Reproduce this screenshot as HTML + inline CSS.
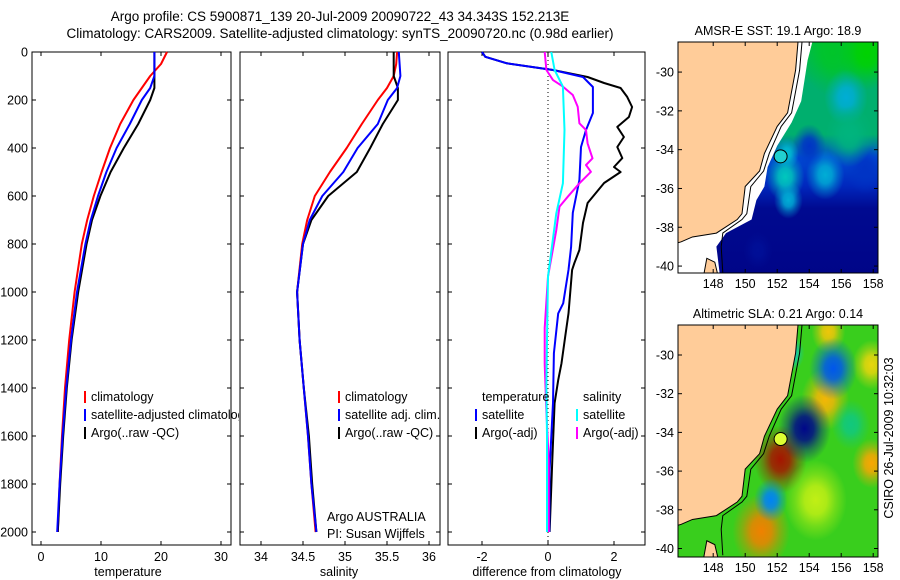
<!DOCTYPE html>
<html><head><meta charset="utf-8">
<style>
html,body{margin:0;padding:0;background:#fff;}
svg{display:block;font-family:"Liberation Sans",sans-serif;}
</style></head>
<body>
<svg id="fig" width="900" height="580" viewBox="0 0 900 580" xmlns="http://www.w3.org/2000/svg">
<rect x="0" y="0" width="900" height="580" fill="#fff"/>
<text x="340" y="21" font-size="13.5" text-anchor="middle">Argo profile: CS 5900871_139 20-Jul-2009 20090722_43 34.343S 152.213E</text>
<text x="340" y="38" font-size="13.5" text-anchor="middle">Climatology: CARS2009. Satellite-adjusted climatology: synTS_20090720.nc (0.98d earlier)</text>
<g id="g"></g>
</svg>
<script>
// ---------- profile data ----------
const depths = [0,50,100,150,200,300,400,500,600,700,800,1000,1200,1400,1600,1800,2000];
const tempClim = [21,20,18.2,16.8,15.4,13.2,11.5,10.1,8.8,7.7,6.8,5.6,4.7,4.0,3.5,3.1,2.8];
const tempSat = [18.9,18.9,18.9,18.2,16.8,14.8,12.6,10.9,9.5,8.3,7.4,6.0,5.0,4.2,3.6,3.1,2.7];
const tempArgo = [18.9,18.9,18.9,18.9,18.2,16.2,13.8,11.6,9.9,8.5,7.6,6.2,5.1,4.3,3.7,3.2,2.8];
const salClim = [35.62,35.61,35.58,35.5,35.39,35.2,35.02,34.82,34.64,34.55,34.49,34.43,34.46,34.51,34.56,34.6,34.65];
const salSat = [35.64,35.65,35.66,35.62,35.51,35.39,35.15,34.98,34.73,34.58,34.5,34.43,34.46,34.51,34.56,34.6,34.66];
const salArgo = [35.58,35.58,35.58,35.63,35.63,35.45,35.3,35.14,34.8,34.6,34.5,34.43,34.46,34.51,34.57,34.61,34.66];
const dTempSatDepth = [0,20,47,75,104,146,254,325,396,533,670,812,908,1047,1089,1255,1463,1741,2000];
const dTempSat = [-2.0,-1.9,-1.25,0.15,1.06,1.36,1.36,1.15,1.0,0.95,0.75,0.7,0.62,0.46,0.31,0.18,0.15,0.05,0.04];
const dTempArgoDepth = [0,20,47,75,104,129,150,187,229,271,312,354,396,442,479,500,546,629,712,825,879,908,1089,1186,1297,1367,1463,1700,2000];
const dTempArgo = [-2.0,-1.9,-1.25,0.15,1.2,1.7,2.2,2.4,2.55,2.45,2.1,2.3,2.1,2.25,2.0,2.2,1.7,1.2,1.06,0.95,0.8,0.73,0.62,0.52,0.41,0.31,0.2,0.13,0.05];
const dSalSatDepth = [0,75,144,325,547,672,936,1200,1400,1600,2000];
const dSalSat = [0.1,0.2,0.45,0.5,0.45,0.25,0.0,-0.03,-0.05,-0.03,-0.03];
const dSalArgoDepth = [0,75,117,144,179,228,297,325,381,443,471,499,547,603,644,742,936,1150,1300,1500,1700,2000];
const dSalArgo = [-0.1,-0.05,0.15,0.45,0.75,0.9,0.95,1.15,1.2,1.35,1.15,1.3,0.95,0.6,0.35,0.25,0.0,-0.1,-0.1,-0.05,0.02,0.02];
const depthTicks = [0,200,400,600,800,1000,1200,1400,1600,1800,2000];
const tempTicks = [0,10,20,30];
const salTicks = [34,34.5,35,35.5,36];
const salTickLabels = ["34","34.5","35","35.5","36"];
const diffTicks = [-2,0,2];
// ---------- map data ----------
const latTicks = [-30,-32,-34,-36,-38,-40];
const lonTicks = [148,150,152,154,156,158];
const coastLon = [153.3,153.15,152.65,152.0,151.2,150.9,150.0,149.8,149.5,148.2,146.7,146.0,145.8];
const coastLat = [-28.45,-29.9,-32.1,-32.8,-34.2,-35.1,-35.9,-37.3,-37.6,-38.3,-38.5,-38.75,-38.8];
const shelfLon = [153.55,153.4,152.9,152.25,151.5,151.15,150.35,150.1,149.8,148.6,148.5,148.6];
const shelfLat = [-28.45,-29.9,-32.1,-32.8,-34.2,-35.1,-35.9,-37.3,-37.6,-38.3,-39.0,-40.35];
const sstEdgeLon = [154.2,153.9,153.5,152.9,152.0,151.4,151.2,150.7,150.4,148.8,148.2,148.4];
const sstEdgeLat = [-28.45,-29.4,-31.5,-32.6,-33.8,-34.9,-35.9,-36.6,-37.6,-38.3,-39.0,-40.35];
const sstBlobLon = [155.5,157.6,156.3,152.5,152.7,155.0,154.0,157.5,150.8,156.5,152.6];
const sstBlobLat = [-29.0,-29.0,-31.3,-35.4,-36.6,-35.3,-33.8,-35.0,-39.2,-33.3,-34.2];
const sstBlobVal = [0.55,0.7,-0.1,0.05,-0.1,-0.1,-0.55,-0.55,-0.85,0.25,-0.05];
const sstBlobR = [1.4,1.2,0.9,0.8,0.6,0.8,0.7,0.8,0.6,1.0,0.5];
const slaBlobLon = [152.2,151.0,157.9,155.0,157.9,155.2,153.7,155.5,151.6,152.8,156.6,154.4];
const slaBlobLat = [-35.4,-39.1,-35.6,-32.3,-30.5,-28.8,-33.8,-30.7,-37.5,-29.9,-33.6,-37.5];
const slaBlobVal = [0.95,0.7,0.6,0.55,0.45,0.5,-0.95,-0.6,-0.5,-0.3,-0.15,0.3];
const slaBlobR = [1.1,1.2,0.8,1.0,0.8,0.7,1.1,1.0,0.7,0.6,0.8,1.3];
const argoLon = 152.213, argoLat = -34.343;

const NS = "http://www.w3.org/2000/svg";
const G = document.getElementById('g');
function mk(tag, attrs, parent){ const e=document.createElementNS(NS,tag); for(const k in attrs) e.setAttribute(k,attrs[k]); (parent||G).appendChild(e); return e; }
function txt(x,y,s,size,anchor,parent){ const t=mk('text',{x:x,y:y,'font-size':size,'text-anchor':anchor||'start'},parent); t.textContent=s; return t; }

const PT=52, PB=545, D0=52, DS=0.24;
function yD(d){ return D0 + d*DS; }
const panels = [
  {name:'temperature', x0:32, x1:231, fx:v=>41+v*6, ticks:tempTicks, labels:tempTicks.map(String), title:'temperature', tx:128},
  {name:'salinity', x0:240, x1:440, fx:v=>261+(v-34)*84, ticks:salTicks, labels:salTickLabels, title:'salinity', tx:339},
  {name:'difference', x0:448, x1:645, fx:v=>548+v*33, ticks:diffTicks, labels:diffTicks.map(String), title:'difference from climatology', tx:547}
];
const defs = mk('defs',{});
const lc = mk('clipPath',{id:'legclip'},defs);
mk('rect',{x:0,y:0,width:239,height:580},lc);
panels.forEach((p,i)=>{
  const g = mk('g',{});
  
  
  const r = mk('rect',{x:p.x0,y:PT,width:p.x1-p.x0,height:PB-PT,fill:'none',stroke:'#000','stroke-width':1},g);
  
  
  depthTicks.forEach(d=>{
    const y=yD(d);
    mk('line',{x1:p.x0,y1:y,x2:p.x0+4,y2:y,stroke:'#000'},g);
    mk('line',{x1:p.x1,y1:y,x2:p.x1-4,y2:y,stroke:'#000'},g);
    if(i===0){ const t=txt(28,y+4.5,String(d),12.5,'end',g);
      
       }
  });
  p.ticks.forEach((v,k)=>{
    const x=p.fx(v);
    mk('line',{x1:x,y1:PT,x2:x,y2:PT+4,stroke:'#000'},g);
    mk('line',{x1:x,y1:PB,x2:x,y2:PB-4,stroke:'#000'},g);
    const t=txt(x,561,p.labels[k],12.5,'middle',g);
    
    
  });
  const tt=txt(p.tx,576,p.title,12.5,'middle',g);
  
  
});
const zl = mk('line',{x1:panels[2].fx(0),y1:PT,x2:panels[2].fx(0),y2:PB,stroke:'#000','stroke-dasharray':'1,3'});



function profile(p, vals, ds, color, name){
  const pts = vals.map((v,k)=>p.fx(v).toFixed(1)+','+yD(ds[k]).toFixed(1)).join(' ');
  const l = mk('polyline',{points:pts,fill:'none',stroke:color,'stroke-width':2,'stroke-linejoin':'round'});
  
  
}
profile(panels[0], tempClim, depths, '#ff0000', 'temperature-climatology-line');
profile(panels[0], tempArgo, depths, '#000000', 'temperature-argo-line');
profile(panels[0], tempSat, depths, '#0000ff', 'temperature-satellite-line');
profile(panels[1], salClim, depths, '#ff0000', 'salinity-climatology-line');
profile(panels[1], salArgo, depths, '#000000', 'salinity-argo-line');
profile(panels[1], salSat, depths, '#0000ff', 'salinity-satellite-line');
profile(panels[2], dTempArgo, dTempArgoDepth, '#000000', 'diff-temperature-argo-line');
profile(panels[2], dTempSat, dTempSatDepth, '#0000ff', 'diff-temperature-satellite-line');
profile(panels[2], dSalArgo, dSalArgoDepth, '#ff00ff', 'diff-salinity-argo-line');
profile(panels[2], dSalSat, dSalSatDepth, '#00ffff', 'diff-salinity-satellite-line');

function legend(x,y,color,label,clip){
  const g=mk('g',clip?{'clip-path':'url(#legclip)'}:{});
  
  
  if(color) mk('rect',{x:x,y:y-10,width:2,height:12,fill:color},g);
  txt(x+7,y,label,12.5,'start',g);
}
legend(84,401,'#ff0000','climatology',true);
legend(84,419,'#0000ff','satellite-adjusted climatology',true);
legend(84,437,'#000000','Argo(..raw -QC)',true);
legend(338,401,'#ff0000','climatology');
legend(338,419,'#0000ff','satellite adj. clim.');
legend(338,437,'#000000','Argo(..raw -QC)');
legend(475,401,null,'temperature');
legend(475,419,'#0000ff','satellite');
legend(475,437,'#000000','Argo(-adj)');
legend(576,401,null,'salinity');
legend(576,419,'#00ffff','satellite');
legend(576,437,'#ff00ff','Argo(-adj)');
const a1=txt(327,521,'Argo AUSTRALIA',12.5);  
const a2=txt(327,538,'PI: Susan Wijffels',12.5);  

// ---------- maps ----------
function interp(stops, v){
  v=Math.max(-1,Math.min(1,v));
  for(let k=0;k<stops.length-1;k++){
    const a=stops[k], b=stops[k+1];
    if(v<=b[0]){ const t=(v-a[0])/(b[0]-a[0]);
      return 'rgb('+[1,2,3].map(j=>Math.round(a[j]+(b[j]-a[j])*t)).join(',')+')'; }
  }
  const l=stops[stops.length-1]; return 'rgb('+l[1]+','+l[2]+','+l[3]+')';
}
const sstStops=[[-1,0,0,128],[-0.6,0,40,190],[-0.3,0,110,230],[0,0,205,205],[0.3,0,175,110],[0.7,0,210,0],[1,60,230,0]];
const slaStops=[[-1,0,0,120],[-0.7,0,40,230],[-0.35,0,200,255],[0,30,200,30],[0.35,220,245,20],[0.65,255,150,0],[1,150,0,0]];
const sstColor=v=>interp(sstStops,v), slaColor=v=>interp(slaStops,v);
let gid=0;
function makeMap(cfg){
  const L=678,R=878, lon0=145.8, lon1=158.3;
  const fx=lon=>L+(lon-lon0)*(R-L)/(lon1-lon0);
  const fy=lat=>cfg.top+(cfg.lat0-lat)*cfg.sy;
  const col=cfg.color;
  const g=mk('g',{});
  
  
  const cp=mk('clipPath',{id:'clip'+cfg.name},defs);
  mk('rect',{x:L,y:cfg.top,width:R-L,height:cfg.bot-cfg.top},cp);
  const inner=mk('g',{'clip-path':'url(#clip'+cfg.name+')'},g);
  mk('rect',{x:L,y:cfg.top,width:R-L,height:cfg.bot-cfg.top,fill:'#fff'},inner);
  let dataPts;
  if(cfg.edgeLon){
    dataPts = cfg.edgeLon.map((v,k)=>fx(v)+','+fy(cfg.edgeLat[k])).join(' ')+' '+R+','+(cfg.bot+5)+' '+R+','+cfg.top;
  } else {
    dataPts = L+','+cfg.top+' '+R+','+cfg.top+' '+R+','+cfg.bot+' '+L+','+cfg.bot;
  }
  const cp2=mk('clipPath',{id:'dclip'+cfg.name},defs);
  mk('polygon',{points:dataPts},cp2);
  const dg=mk('g',{'clip-path':'url(#dclip'+cfg.name+')'},inner);
  
  
  if(cfg.vgrad){
    const id='vg'+(gid++);
    const lg=mk('linearGradient',{id:id,x1:0,y1:0,x2:0,y2:1},defs);
    cfg.vgrad.forEach(s=>mk('stop',{offset:s[0],'stop-color':col(s[1])},lg));
    mk('rect',{x:L,y:cfg.top,width:R-L,height:cfg.bot-cfg.top,fill:'url(#'+id+')'},dg);
  } else {
    mk('rect',{x:L,y:cfg.top,width:R-L,height:cfg.bot-cfg.top,fill:col(cfg.baseVal)},dg);
  }
  cfg.bLon.forEach((lon,k)=>{
    const id='bg'+(gid++);
    const rg=mk('radialGradient',{id:id},defs);
    const v=cfg.bVal[k];
    mk('stop',{offset:'0%','stop-color':col(v),'stop-opacity':1},rg);
    mk('stop',{offset:'35%','stop-color':col(v),'stop-opacity':0.85},rg);
    mk('stop',{offset:'65%','stop-color':col(v),'stop-opacity':0.4},rg);
    mk('stop',{offset:'100%','stop-color':col(v),'stop-opacity':0},rg);
    const e=mk('ellipse',{cx:fx(lon),cy:fy(cfg.bLat[k]),rx:cfg.bR[k]*16*1.5,ry:cfg.bR[k]*19.4*1.6,fill:'url(#'+id+')'},dg);
    
    
  });
  const landPts = coastLon.map((v,k)=>fx(v)+','+fy(coastLat[k])).join(' ')+' '+(L-2)+','+fy(-38.8)+' '+(L-2)+','+(cfg.top-2);
  const land=mk('polygon',{points:landPts,fill:'#ffcc99',stroke:'#000','stroke-width':1},inner);
  
  
  const tas=mk('polygon',{points:[fx(147.6)+','+fy(-39.6),fx(148.1)+','+fy(-39.8),fx(148.3)+','+fy(-40.5),fx(147.4)+','+fy(-40.5)].join(' '),fill:'#ffcc99',stroke:'#000'},inner);
  
  
  const sh=mk('polyline',{points:shelfLon.map((v,k)=>fx(v)+','+fy(shelfLat[k])).join(' '),fill:'none',stroke:'#000','stroke-width':1},inner);
  
  
  const c=mk('circle',{cx:fx(argoLon),cy:fy(argoLat),r:6.5,fill:cfg.dot,stroke:'#000','stroke-width':1},inner);
  
  
  mk('rect',{x:L,y:cfg.top,width:R-L,height:cfg.bot-cfg.top,fill:'none',stroke:'#000'},g);
  latTicks.forEach(lat=>{
    const y=fy(lat);
    mk('line',{x1:L,y1:y,x2:L+4,y2:y,stroke:'#000'},g);
    mk('line',{x1:R,y1:y,x2:R-4,y2:y,stroke:'#000'},g);
    const t=txt(L-4,y+4.5,String(lat),12.5,'end',g);
    
    
  });
  lonTicks.forEach(lon=>{
    const x=fx(lon);
    mk('line',{x1:x,y1:cfg.top,x2:x,y2:cfg.top+4,stroke:'#000'},g);
    mk('line',{x1:x,y1:cfg.bot,x2:x,y2:cfg.bot-4,stroke:'#000'},g);
    const t=txt(x,cfg.bot+15,String(lon),12.5,'middle',g);
    
    
  });
  const tt=txt((L+R)/2,cfg.top-7,cfg.title,12.5,'middle',g);
  
  
}
makeMap({name:'sst-map',top:42,bot:273,lat0:-28.45,sy:19.4,title:'AMSR-E SST: 19.1 Argo: 18.9',color:sstColor,
  edgeLon:sstEdgeLon,edgeLat:sstEdgeLat,baseVal:-0.9,
  vgrad:[['0%',0.45],['18%',0.3],['40%',0.3],['50%',-0.45],['62%',-0.6],['72%',-0.9],['100%',-0.95]],
  bLon:sstBlobLon,bLat:sstBlobLat,bVal:sstBlobVal,bR:sstBlobR,dot:'#22d0d0'});
makeMap({name:'sla-map',top:325,bot:557,lat0:-28.45,sy:19.35,title:'Altimetric SLA: 0.21 Argo: 0.14',color:slaColor,
  baseVal:0.05,bLon:slaBlobLon,bLat:slaBlobLat,bVal:slaBlobVal,bR:slaBlobR,dot:'#ddff33'});
const cs=txt(0,0,'CSIRO 26-Jul-2009 10:32:03',12.5,'middle');
cs.setAttribute('transform','translate(893,438) rotate(-90)');


</script>
</body></html>
